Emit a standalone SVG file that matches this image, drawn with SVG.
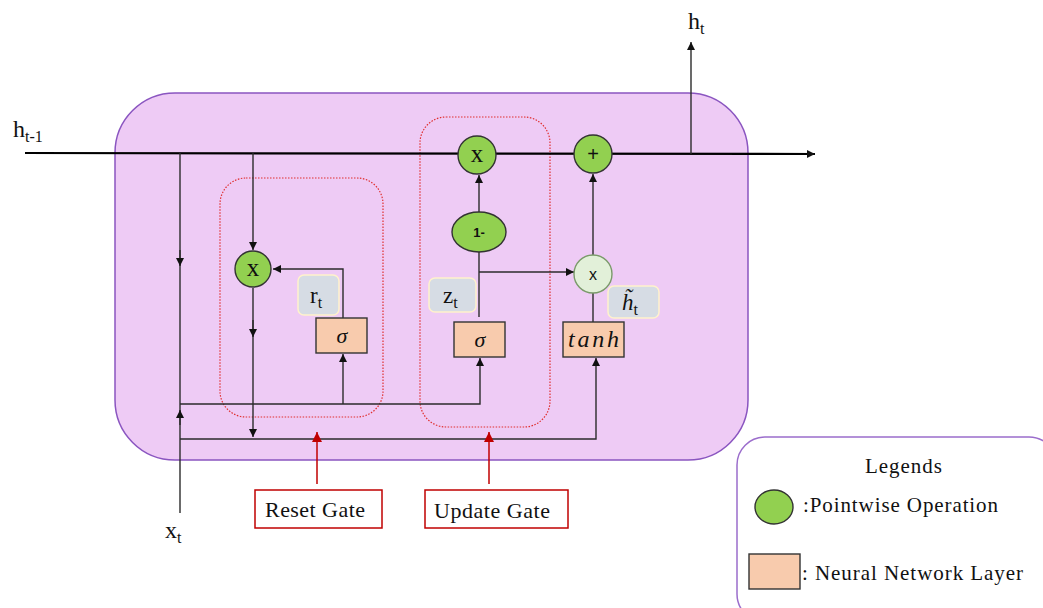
<svg xmlns="http://www.w3.org/2000/svg" width="1043" height="608" viewBox="0 0 1043 608">
<style>
.t{font-family:"Liberation Serif","Times New Roman",serif;fill:#111}
.sans{font-family:"Liberation Sans",Arial,sans-serif;fill:#111}
.ln{stroke:#2b2b2b;stroke-width:1.4;fill:none}
.main{stroke:#000;stroke-width:2.2;fill:none}
.op{fill:#92d050;stroke:#333;stroke-width:1.4}
.nn{fill:#f8cbad;stroke:#333;stroke-width:1.4}
.lbl{fill:#d6dce4;stroke:#fff2cc;stroke-width:1.5}
.gate{fill:none;stroke:#e03030;stroke-width:1.2;stroke-dasharray:1.5 1.5}
.red{stroke:#c00000;stroke-width:1.5;fill:none}
.rbox{fill:#fff;stroke:#c00000;stroke-width:1.5}
</style>
<defs>
<marker id="ah" viewBox="0 0 10 10" refX="10" refY="5" markerWidth="8" markerHeight="8" markerUnits="userSpaceOnUse" orient="auto"><path d="M0,0L10,5L0,10z" fill="#111"/></marker>
<marker id="ahr" viewBox="0 0 10 10" refX="10" refY="5" markerWidth="10" markerHeight="10" markerUnits="userSpaceOnUse" orient="auto"><path d="M0,0L10,5L0,10z" fill="#c00000"/></marker>
</defs>

<g id="cell"><rect x="115" y="93" width="633" height="367" rx="60" fill="#eecbf5" stroke="#8a55c0" stroke-width="1.5"/></g>
<g id="reset-gate-area"><rect class="gate" x="220" y="178" width="163" height="239" rx="26"/></g>
<g id="update-gate-area"><rect class="gate" x="420" y="117" width="130" height="310" rx="26"/></g>

<g id="connectors">
<path class="main" d="M25,153 L815,154" marker-end="url(#ah)"/>
<path class="ln" d="M691,154 L691,42" marker-end="url(#ah)"/>
<path class="ln" d="M180,153 L180,513"/>
<path class="ln" d="M180,250 L180,266" marker-end="url(#ah)"/>
<path class="ln" d="M180,425 L180,410" marker-end="url(#ah)"/>
<path class="ln" d="M180,404 L480,404 L480,358" marker-end="url(#ah)"/>
<path class="ln" d="M343,404 L343,354" marker-end="url(#ah)"/>
<path class="ln" d="M180,439 L596,439 L596,358" marker-end="url(#ah)"/>
<path class="ln" d="M253,153 L253,250" marker-end="url(#ah)"/>
<path class="ln" d="M253,288 L253,437" marker-end="url(#ah)"/>
<path class="ln" d="M253,320 L253,337" marker-end="url(#ah)"/>
<path class="ln" d="M343,318 L343,269 L273,269" marker-end="url(#ah)"/>
<path class="ln" d="M479,317 L479,252"/>
<path class="ln" d="M479,212 L479,175" marker-end="url(#ah)"/>
<path class="ln" d="M479,272 L574,272" marker-end="url(#ah)"/>
<path class="ln" d="M593,322 L593,293"/>
<path class="ln" d="M593,255 L593,174" marker-end="url(#ah)"/>
<path class="red" d="M317,484 L317,432" marker-end="url(#ahr)"/>
<path class="red" d="M489,484 L489,432" marker-end="url(#ahr)"/>
</g>

<g id="label-htm1"><text class="t" x="13" y="137" font-size="24">h<tspan font-size="16" dy="5">t-1</tspan></text></g>
<g id="label-ht"><text class="t" x="688" y="29" font-size="24">h<tspan font-size="16" dy="5">t</tspan></text></g>
<g id="label-xt"><text class="t" x="165" y="538" font-size="24">x<tspan font-size="16" dy="5">t</tspan></text></g>

<g id="mul-update"><circle class="op" cx="477" cy="155" r="19"/><text class="t" x="477" y="162" font-size="25" text-anchor="middle">x</text></g>
<g id="add"><circle class="op" cx="593" cy="154" r="19"/><text class="sans" x="593" y="161" font-size="20" text-anchor="middle" fill="#444">+</text></g>
<g id="mul-reset"><circle class="op" cx="253" cy="269" r="18"/><text class="t" x="253" y="276" font-size="25" text-anchor="middle">x</text></g>
<g id="one-minus"><ellipse class="op" cx="479" cy="232" rx="27" ry="20"/><text class="sans" x="479" y="237" font-size="13" font-weight="bold" text-anchor="middle">1-</text></g>
<g id="mul-cand"><circle cx="593" cy="274" r="19" fill="#e2f0d9" stroke="#7a9a6a" stroke-width="1.4"/><text class="sans" x="593" y="280" font-size="16" text-anchor="middle">x</text></g>

<g id="sigma-reset"><rect class="nn" x="316" y="318" width="51" height="35"/><text class="t" x="342" y="343" font-size="22" font-style="italic" text-anchor="middle">σ</text></g>
<g id="sigma-update"><rect class="nn" x="454" y="322" width="51" height="35"/><text class="t" x="480" y="347" font-size="22" font-style="italic" text-anchor="middle">σ</text></g>
<g id="tanh"><rect class="nn" x="563" y="322" width="61" height="35"/><text class="t" x="568" y="347" font-size="24" font-style="italic" textLength="51" lengthAdjust="spacing">tanh</text></g>

<g id="label-rt"><rect class="lbl" x="298" y="275" width="41" height="40" rx="6"/><text class="t" x="310" y="303" font-size="23">r<tspan font-size="16" dy="5">t</tspan></text></g>
<g id="label-zt"><rect class="lbl" x="429" y="278" width="47" height="34" rx="6"/><text class="t" x="443" y="303" font-size="23">z<tspan font-size="16" dy="5">t</tspan></text></g>
<g id="label-htilde"><rect class="lbl" x="608" y="286" width="51" height="32" rx="6"/><text class="t" x="622" y="310" font-size="23" font-style="italic">h̃<tspan font-size="16" font-style="normal" dy="5">t</tspan></text></g>

<g id="reset-gate-label"><rect class="rbox" x="255" y="490" width="127" height="38"/><text class="t" x="265" y="517" font-size="22" textLength="100" lengthAdjust="spacing">Reset Gate</text></g>
<g id="update-gate-label"><rect class="rbox" x="425" y="490" width="143" height="38"/><text class="t" x="434" y="518" font-size="22" textLength="116" lengthAdjust="spacing">Update Gate</text></g>

<g id="legend">
<rect x="737" y="437" width="320" height="185" rx="28" fill="#fff" stroke="#9b6dcc" stroke-width="1.5"/>
<text class="t" x="865" y="473" font-size="21" textLength="77" lengthAdjust="spacing">Legends</text>
<ellipse class="op" cx="774" cy="507" rx="19" ry="17"/>
<text class="t" x="803" y="512" font-size="21" textLength="195" lengthAdjust="spacing">:Pointwise Operation</text>
<rect class="nn" x="749" y="554" width="51" height="35"/>
<text class="t" x="802" y="580" font-size="21" textLength="221" lengthAdjust="spacing">: Neural Network Layer</text>
</g>
</svg>
